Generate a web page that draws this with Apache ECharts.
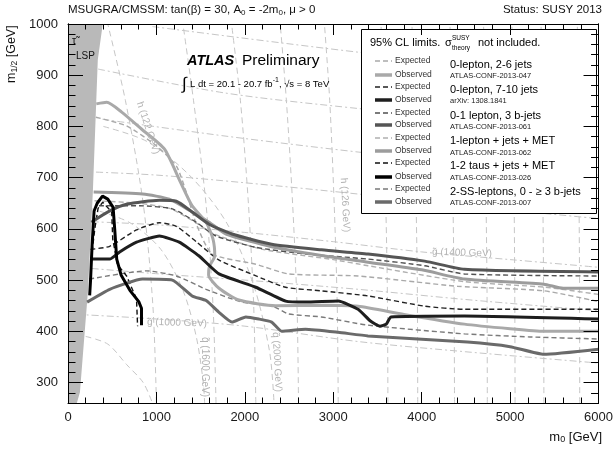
<!DOCTYPE html>
<html><head><meta charset="utf-8">
<script src="https://cdn.jsdelivr.net/npm/echarts@6/dist/echarts.min.js"></script>
<style>html,body{margin:0;padding:0;background:#fff}#c{width:616px;height:451px}</style>
</head><body><div id="c"></div>
<script>
// ---------- axis ranges / tick labels ----------
const X_RANGE = [0, 6000];
const Y_RANGE = [260, 1000];
const yLabelValues = [300, 400, 500, 600, 700, 800, 900, 1000];

// ---------- stau-LSP excluded region (m0, m1/2) ----------
const lspBoundary = [[0,1000],[393,1000],[337,930],[281,672],[225,477],[135,281],[100,260],[0,260]];

// ---------- exclusion contours (m0 [GeV], m1/2 [GeV]) ----------
const obs0l26 = [[320,844],[438,847],[607,828],[831,795],[1090,756],[1270,692],[1404,645],[1562,613],[1640,580],[1660,547],[1600,527],[1590,510],[1708,484],[1933,461],[2348,450],[2910,451],[3281,449],[3800,433],[4483,414],[5000,405],[5382,400],[6000,400]];
const exp0l26 = [[315,818],[663,801],[1000,762],[1225,723],[1337,672],[1450,610],[1629,551],[2124,531],[2494,512],[3281,508],[4404,488],[5382,479],[6000,458]];
const obs0l710 = [[250,541],[472,541],[584,555],[775,574],[1034,586],[1258,574],[1483,547],[1708,512],[2124,486],[2461,459],[2685,457],[3056,459],[3281,443],[3420,420],[3528,410],[3600,414],[3652,428],[4483,430],[6000,424]];
const exp0l710 = [[255,560],[472,566],[775,598],[1034,612],[1225,605],[1450,575],[1700,540],[2100,510],[2461,486],[2865,479],[3393,469],[4034,449],[4483,443],[6000,443]];
const obs3b = [[265,613],[472,635],[663,648],[1034,656],[1225,654],[1404,633],[1596,609],[1854,590],[2303,570],[2865,559],[3393,551],[4034,537],[4483,521],[6000,516]];
const exp3b = [[350,645],[809,645],[1180,639],[1449,613],[1674,586],[2124,564],[2685,551],[3393,541],[4034,528],[4483,512],[6000,508]];
const obs1l = [[290,672],[843,668],[1146,658],[1404,633],[1596,613],[1787,590],[2303,565],[2865,548],[3393,535],[4000,520],[4483,502],[5382,492],[5600,484],[6000,484]];
const exp1l = [[300,655],[800,650],[1150,640],[1420,615],[1650,590],[2200,560],[3000,540],[3393,528],[4483,497],[5400,486],[6000,472]];
const obsTau = [[245,470],[255,500],[272,566],[295,635],[330,650],[390,664],[450,658],[510,642],[528,600],[551,541],[600,510],[700,480],[800,458],[831,445],[831,412]];
const expTau = [[262,540],[303,600],[340,640],[393,652],[494,633],[506,580],[560,530],[663,508],[775,463],[787,410]];
const obs2ss = [[216,457],[472,482],[843,502],[1180,500],[1404,469],[1562,460],[1708,437],[1854,418],[2011,428],[2157,424],[2303,418],[2416,400],[2685,404],[3056,398],[3393,391],[4517,379],[5000,370],[5382,355],[6000,365]];
const exp2ss = [[240,502],[888,518],[1225,508],[1562,482],[1966,457],[2303,450],[2494,434],[2865,428],[3393,412],[4483,395],[5225,389],[6000,385]];

// ---------- faint iso-mass lines ----------
const gluinoLines = [
  [[100,433],[1000,424],[2000,410],[3281,380],[4500,360],[6000,338]],
  [[100,525],[1034,512],[2000,500],[3281,482],[4500,462],[6000,440]],
  [[100,615],[1000,608],[2000,593],[3000,575],[4000,555],[5000,540],[6000,525]],
  [[150,712],[1000,705],[2000,690],[3281,668],[4500,645],[6000,620]],
  [[390,814],[1787,781],[3281,750],[4500,728],[6000,705]],
  [[340,912],[1787,865],[3281,835],[4500,815],[6000,790]],
  [[955,995],[3281,945],[4500,925],[6000,900]]
];
const squarkLines = [
  [[200,390],[450,375],[663,335],[850,300],[950,262]],
  [[250,640],[700,612],[1050,560],[1300,480],[1450,390],[1530,300],[1545,260]],
  [[400,800],[900,770],[1400,700],[1800,610],[2100,490],[2280,360],[2330,260]],
  [[1000,260],[960,450],[850,650],[650,850],[450,1000]],
  [[1674,260],[1640,450],[1560,650],[1420,850],[1300,1000]],
  [[2124,260],[2100,450],[2040,650],[1950,850],[1850,1000]],
  [[2607,260],[2590,450],[2540,650],[2470,850],[2400,1000]],
  [[3056,260],[3045,450],[3010,650],[2960,850],[2900,1000]],
  [[3618,260],[3610,500],[3580,750],[3540,1000]],
  [[3955,260],[3950,500],[3925,750],[3890,1000]],
  [[4371,260],[4365,500],[4345,750],[4320,1000]],
  [[4742,260],[4738,500],[4720,750],[4700,1000]],
  [[5056,260],[5052,500],[5040,750],[5020,1000]],
  [[5382,260],[5378,500],[5365,750],[5350,1000]],
  [[5787,260],[5785,500],[5775,750],[5760,1000]]
];

// ---------- legend entries ----------
const legendTitles = ['0-lepton, 2-6 jets','0-lepton, 7-10 jets','0-1 lepton, 3 b-jets','1-lepton + jets + MET','1-2 taus + jets + MET','2-SS-leptons, 0 - \u2265 3 b-jets'];
const legendRefs = ['ATLAS-CONF-2013-047','arXiv: 1308.1841','ATLAS-CONF-2013-061','ATLAS-CONF-2013-062','ATLAS-CONF-2013-026','ATLAS-CONF-2013-007'];
const obsColors = ['#a9a9a9','#1e1e1e','#555555','#9c9c9c','#000000','#6a6a6a'];
const expColors = ['#a9a9a9','#222222','#505050','#b0b0b0','#111111','#7a7a7a'];

const FONT = "'Liberation Sans', Arial, Helvetica, sans-serif";
const ctx = document.createElement('canvas').getContext('2d');
function fontStr(size, weight, style){ return (style||'normal')+' '+(weight||'normal')+' '+size+'px '+FONT; }
function tw(t, size, weight, style){ ctx.font = fontStr(size, weight, style); return ctx.measureText(t).width; }
function txt(x, y, text, size, color, opts){
  opts = opts || {};
  return {type:'text', x:x, y:y, rotation:opts.rotation||0, z:opts.z||92,
    style:{text:text, font:fontStr(size, opts.weight, opts.style), fill:color,
      textAlign:opts.align||'left', align:opts.align||'left',
      textVerticalAlign:'middle', verticalAlign:'middle'}};
}
// pieces: [text, size, dy, weight, style]
function runs(x, y, pieces, align, color, z){
  const widths = pieces.map(p=>tw(p[0],p[1],p[3],p[4]));
  const total = widths.reduce((a,b)=>a+b,0);
  let cx = align==='right' ? x-total : x;
  return pieces.map((p,i)=>{ const el = txt(cx, y+(p[2]||0), p[0], p[1], color, {weight:p[3], style:p[4], z:z}); cx += widths[i]; return el; });
}

const chart = echarts.init(document.getElementById('c'), null, {renderer:'canvas'});

const axisBase = {type:'value', z:95, splitLine:{show:false}, axisLine:{show:true, onZero:false, lineStyle:{color:'#000', width:1}}};
const labelStyle = {color:'#1a1a1a', fontSize:13, fontFamily:FONT};

const series = [];
gluinoLines.forEach(d=>series.push({type:'line', data:d, showSymbol:false, silent:true, z:1, smooth:0.3,
  lineStyle:{color:'#c6c6c6', width:1, type:[7,3,2,3]}}));
squarkLines.forEach(d=>series.push({type:'line', data:d, showSymbol:false, silent:true, z:1, smooth:0.3,
  lineStyle:{color:'#c6c6c6', width:1, type:[6,4]}}));
series.push({type:'custom', silent:true, z:2, data:[[0,260]],
  renderItem:(params, api)=>({type:'polygon', shape:{points: lspBoundary.map(p=>api.coord(p))}, style:{fill:'#b9b9b9'}})});
function curve(d, color, width, dashed, smooth, z){
  series.push({type:'line', data:d, showSymbol:false, silent:true, z:z||3, smooth:smooth,
    lineStyle:{color:color, width:width, type: dashed ? [5,3] : 'solid'}});
}
curve(exp1l, expColors[3], 1.4, true, 0.2);
curve(exp0l26, expColors[0], 1.4, true, 0.2);
curve(exp3b, expColors[2], 1.4, true, 0.2);
curve(exp2ss, expColors[5], 1.4, true, 0.2);
curve(exp0l710, expColors[1], 1.4, true, 0.2);
curve(expTau, expColors[4], 1.4, true, false);
curve(obs1l, obsColors[3], 3, false, 0.2);
curve(obs0l26, obsColors[0], 3, false, 0.2);
curve(obs2ss, obsColors[5], 3, false, 0.15);
curve(obs3b, obsColors[2], 3, false, 0.2);
curve(obs0l710, obsColors[1], 3, false, 0.15);
curve(obsTau, obsColors[4], 3, false, false);

// ---------- graphic: texts & legend ----------
const G = [];
const grey = '#b3b3b3';
G.push(...runs(68, 10, [['MSUGRA/CMSSM: tan(\u03B2) = 30, A',11.5],['0',8,3],[' = -2m',11.5],['0',8,3],[', \u03BC > 0',11.5]], 'left', '#111'));
G.push(txt(602, 10, 'Status: SUSY 2013', 11.5, '#111', {align:'right'}));
// axis titles
G.push(...runs(602, 437, [['m',13],['0',9,3],[' [GeV]',13]], 'right', '#111'));
(function(){
  const pcs = [['m',12.5],['1/2',8.5,3],[' [GeV]',12.5]];
  let cx = 0; const kids = [];
  pcs.forEach(p=>{ const w = tw(p[0],p[1]); kids.push({type:'text', x:cx, y:(p[2]||0), style:{text:p[0], font:fontStr(p[1]), fill:'#111', textAlign:'left', align:'left', textVerticalAlign:'middle', verticalAlign:'middle'}}); cx += w; });
  G.push({type:'group', x:12, y:83, rotation:Math.PI/2, z:92, children:kids});
})();
// LSP label
G.push(txt(72, 41, '\u03C4\u0303', 10.5, '#111'));
G.push(txt(76, 56, 'LSP', 10, '#111'));
// ATLAS
G.push(txt(187, 61, 'ATLAS', 14.5, '#000', {weight:'bold', style:'italic'}));
G.push(txt(242, 61, 'Preliminary', 15.5, '#000'));
G.push(txt(182, 84, '\u222B', 17, '#000'));
G.push(...runs(190, 84, [['L dt = 20.1 - 20.7 fb',9.5],['-1',7,-4],[', \u221As = 8 TeV',9.5]], 'left', '#000'));
// iso-line labels
G.push(txt(147, 322, 'g\u0303 (1000 GeV)', 10, grey, {rotation:-0.03, z:4}));
G.push(txt(432, 252, 'g\u0303 (1400 GeV)', 10, grey, {rotation:-0.03, z:4}));
G.push(txt(205, 367, 'q\u0303 (1600 GeV)', 10, grey, {rotation:-Math.PI/2, align:'center', z:4}));
G.push(txt(277, 362, 'q\u0303 (2000 GeV)', 10, grey, {rotation:-Math.PI/2+0.05, align:'center', z:4}));
G.push(txt(148, 128, 'h (122 GeV)', 10, grey, {rotation:-1.25, align:'center', z:4}));
G.push(txt(345, 205, 'h (126 GeV)', 10, grey, {rotation:-1.52, align:'center', z:4}));
// legend box
G.push({type:'rect', shape:{x:361.5, y:29.5, width:235, height:184}, z:90, style:{fill:'#fff', stroke:'#000', lineWidth:1}});
G.push(txt(370, 43, '95% CL limits.', 11, '#000'));
G.push(txt(445, 43, '\u03C3', 11, '#000'));
G.push(txt(452, 38, 'SUSY', 6.5, '#000'));
G.push(txt(452, 48.5, 'theory', 6.5, '#000'));
G.push(txt(478, 43, 'not included.', 11, '#000'));
const expY = [61,87,113,138,163,189];
const obsY = [75,100,125,151,177,202];
const titleY = [65,89.5,115.5,141,166,191.5];
const refY = [75.5,101,127,152.5,177.5,203];
legendTitles.forEach((t,i)=>{
  G.push({type:'line', z:92, shape:{x1:375,y1:expY[i],x2:392,y2:expY[i]}, style:{stroke:expColors[i], lineWidth:1.5, lineDash:[5,3]}});
  G.push({type:'line', z:92, shape:{x1:375,y1:obsY[i],x2:392,y2:obsY[i]}, style:{stroke:obsColors[i], lineWidth:3.5}});
  G.push(txt(395, expY[i], 'Expected', 8.5, '#333'));
  G.push(txt(395, obsY[i], 'Observed', 8.5, '#333'));
  G.push(txt(450, titleY[i], t, 11, '#000'));
  G.push(txt(450, refY[i], legendRefs[i], 7.5, '#222'));
});

chart.setOption({
  animation:false,
  backgroundColor:'#fff',
  grid:{left:68, right:14, top:24, bottom:48, containLabel:false},
  xAxis:[
    Object.assign({}, axisBase, {min:X_RANGE[0], max:X_RANGE[1], interval:1000, position:'bottom',
      axisTick:{inside:true, length:11, lineStyle:{color:'#000'}},
      minorTick:{show:true, splitNumber:5, length:5.5, lineStyle:{color:'#000'}},
      axisLabel:Object.assign({show:true, margin:8, showMinLabel:true, showMaxLabel:true, formatter:v=>String(v)}, labelStyle)}),
    Object.assign({}, axisBase, {min:X_RANGE[0], max:X_RANGE[1], interval:1000, position:'top',
      axisTick:{inside:true, length:11, lineStyle:{color:'#000'}},
      minorTick:{show:true, splitNumber:5, length:5.5, lineStyle:{color:'#000'}},
      axisLabel:{show:false}})
  ],
  yAxis:[
    Object.assign({}, axisBase, {min:Y_RANGE[0], max:Y_RANGE[1], interval:20, position:'left',
      axisTick:{inside:true, length:7.5, lineStyle:{color:'#000'}},
      axisLabel:Object.assign({customValues:yLabelValues, formatter:v=>(v%100===0?String(v):''), margin:10, showMinLabel:true, showMaxLabel:true}, labelStyle)}),
    Object.assign({}, axisBase, {min:Y_RANGE[0], max:Y_RANGE[1], interval:20, position:'left',
      axisTick:{inside:true, length:15, customValues:yLabelValues, lineStyle:{color:'#000'}},
      axisLabel:{show:false}}),
    Object.assign({}, axisBase, {min:Y_RANGE[0], max:Y_RANGE[1], interval:20, position:'right',
      axisTick:{inside:true, length:7.5, lineStyle:{color:'#000'}}, axisLabel:{show:false}}),
    Object.assign({}, axisBase, {min:Y_RANGE[0], max:Y_RANGE[1], interval:20, position:'right',
      axisTick:{inside:true, length:15, customValues:yLabelValues, lineStyle:{color:'#000'}}, axisLabel:{show:false}})
  ],
  series: series,
  graphic:{elements:G}
});
</script>
</body></html>
